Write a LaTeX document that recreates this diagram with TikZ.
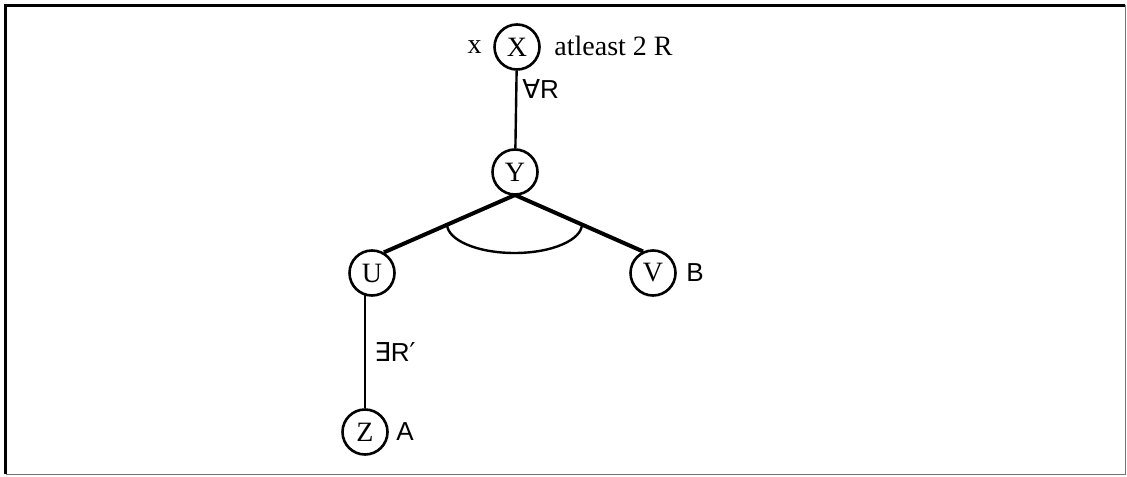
\documentclass[tikz,border=0pt]{standalone}
\usepackage{fontspec}
\setmainfont{Liberation Serif}
\newfontfamily\lsans{Liberation Sans}
\newfontfamily\dsans{DejaVu Sans}
\begin{document}
\begin{tikzpicture}[x=0.5pt,y=-0.5pt,
  vert/.style={circle,draw,line width=1.3pt,minimum size=22.5pt,inner sep=0pt,font=\fontsize{14}{15}\selectfont},
  lbl/.style={inner sep=0pt,font=\fontsize{14}{15}\selectfont},
  slbl/.style={inner sep=0pt,font=\lsans\fontsize{13}{15}\selectfont},
  thin edge/.style={line width=1.2pt},
  bold edge/.style={line width=2pt}]
\useasboundingbox (0,0) rectangle (1127,476);
% frame
\draw[line width=1.5pt] (5.5,474) -- (5.5,5.5) -- (1125,5.5);
\draw[line width=0.5pt,black!55] (1125,5.5) -- (1125,474) -- (5.5,474);
% vertices
\node[vert] (X) at (517,47) {X};
\node[vert] (Y) at (515,172) {Y};
\node[vert] (U) at (372,273) {U};
\node[vert] (V) at (653,273) {V};
\node[vert] (Z) at (365,432) {Z};
% labels
\node[lbl,anchor=east] (lx) at (482,47) {x};
\node[lbl,anchor=west] (lat) at (554,46) {atleast 2 R};
\node[slbl,anchor=west] (lfa) at (522,89) {{\dsans ∀}R};
\node[slbl,anchor=west] (lex) at (374,352) {{\dsans ∃}R{\dsans ′}};
\node[slbl,anchor=west] (lb) at (686,273) {B};
\node[slbl,anchor=west] (la) at (396,432) {A};
% edges
\draw[thin edge] (X) -- (Y);
\coordinate (yb) at (515,195);
\draw[bold edge] (yb) -- (U.60);
\draw[bold edge] (yb) -- (V.115);
\draw[thin edge] (365,295) -- (Z);
\draw[line width=1.2pt] (447,224) arc[start angle=180,end angle=0,x radius=67.5,y radius=29];
\end{tikzpicture}
\end{document}
